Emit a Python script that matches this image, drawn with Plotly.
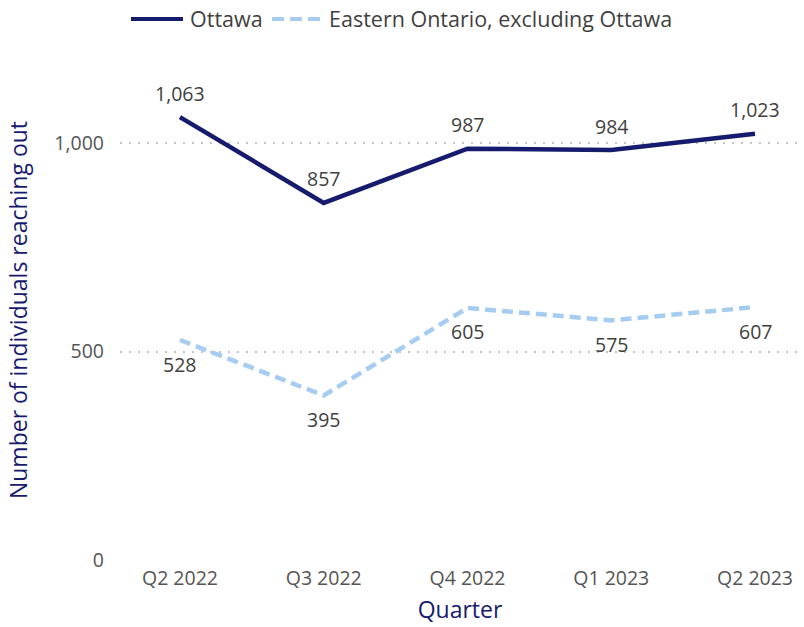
import plotly.graph_objects as go

quarters = ["Q2 2022", "Q3 2022", "Q4 2022", "Q1 2023", "Q2 2023"]
ottawa = [1063, 857, 987, 984, 1023]
eastern = [528, 395, 605, 575, 607]
series_names = ["Ottawa", "Eastern Ontario, excluding Ottawa"]

navy = "#161b6e"
light = "#a6cdf1"
label_color = "#3f3f3f"
tick_color = "#555555"
font_family = "Open Sans, Noto Sans, sans-serif"

W, H = 804, 627
L, R, T, B = 120, 4, 60, 67
plot_w, plot_h = W - L - R, H - T - B


def px_x(px):
    return (px - L) / plot_w


def px_y(py):
    return (H - B - py) / plot_h


fig = go.Figure()
fig.add_trace(go.Scatter(
    x=quarters, y=ottawa, name=series_names[0], mode="lines",
    line=dict(color=navy, width=4.5), showlegend=False,
))
fig.add_trace(go.Scatter(
    x=quarters, y=eastern, name=series_names[1], mode="lines",
    line=dict(color=light, width=4.5, dash="11px,6px"), showlegend=False,
))

# value labels: Ottawa above its line, Eastern Ontario below
for q, v in zip(quarters, ottawa):
    fig.add_annotation(x=q, y=v, text=f"{v:,}", showarrow=False, yshift=24,
                       font=dict(size=19.5, color=label_color))
for q, v in zip(quarters, eastern):
    fig.add_annotation(x=q, y=v, text=f"{v:,}", showarrow=False, yshift=-24,
                       font=dict(size=19.5, color=label_color))

# legend drawn across the top
legend_y = px_y(19)
fig.add_shape(type="line", xref="paper", yref="paper",
              x0=px_x(131), x1=px_x(183), y0=legend_y, y1=legend_y,
              line=dict(color=navy, width=4))
fig.add_annotation(xref="paper", yref="paper", x=px_x(188), y=legend_y,
                   xanchor="left", yanchor="middle", showarrow=False,
                   text=series_names[0], font=dict(size=21.5, color=label_color))
fig.add_shape(type="line", xref="paper", yref="paper",
              x0=px_x(272), x1=px_x(322), y0=legend_y, y1=legend_y,
              line=dict(color=light, width=4, dash="12px,6px"))
fig.add_annotation(xref="paper", yref="paper", x=px_x(327), y=legend_y,
                   xanchor="left", yanchor="middle", showarrow=False,
                   text=series_names[1], font=dict(size=21.5, color=label_color))

fig.update_layout(
    width=W, height=H,
    margin=dict(l=L, r=R, t=T, b=B),
    paper_bgcolor="white", plot_bgcolor="white",
    font=dict(family=font_family, color=tick_color, size=19.5),
    showlegend=False,
)
fig.update_xaxes(
    type="category", range=[-0.417, 4.313], showgrid=False, zeroline=False,
    showline=False, ticks="", automargin=False, ticklabelstandoff=4,
    tickfont=dict(size=19.5, color=tick_color),
    title=dict(text="Quarter", font=dict(size=23, color=navy), standoff=12),
)
fig.update_yaxes(
    range=[0, 1200], tickvals=[0, 500, 1000], ticktext=["0", "500", "1,000"],
    showgrid=True, gridcolor="#c4c4c4", griddash="2px,7px", gridwidth=1.5,
    zeroline=False, showline=False, ticks="", automargin=False,
    ticklabelstandoff=15,
    tickfont=dict(size=19.5, color=tick_color),
    title=dict(text="Number of individuals reaching out",
               font=dict(size=23, color=navy), standoff=20),
)

fig.write_html("out.html")
